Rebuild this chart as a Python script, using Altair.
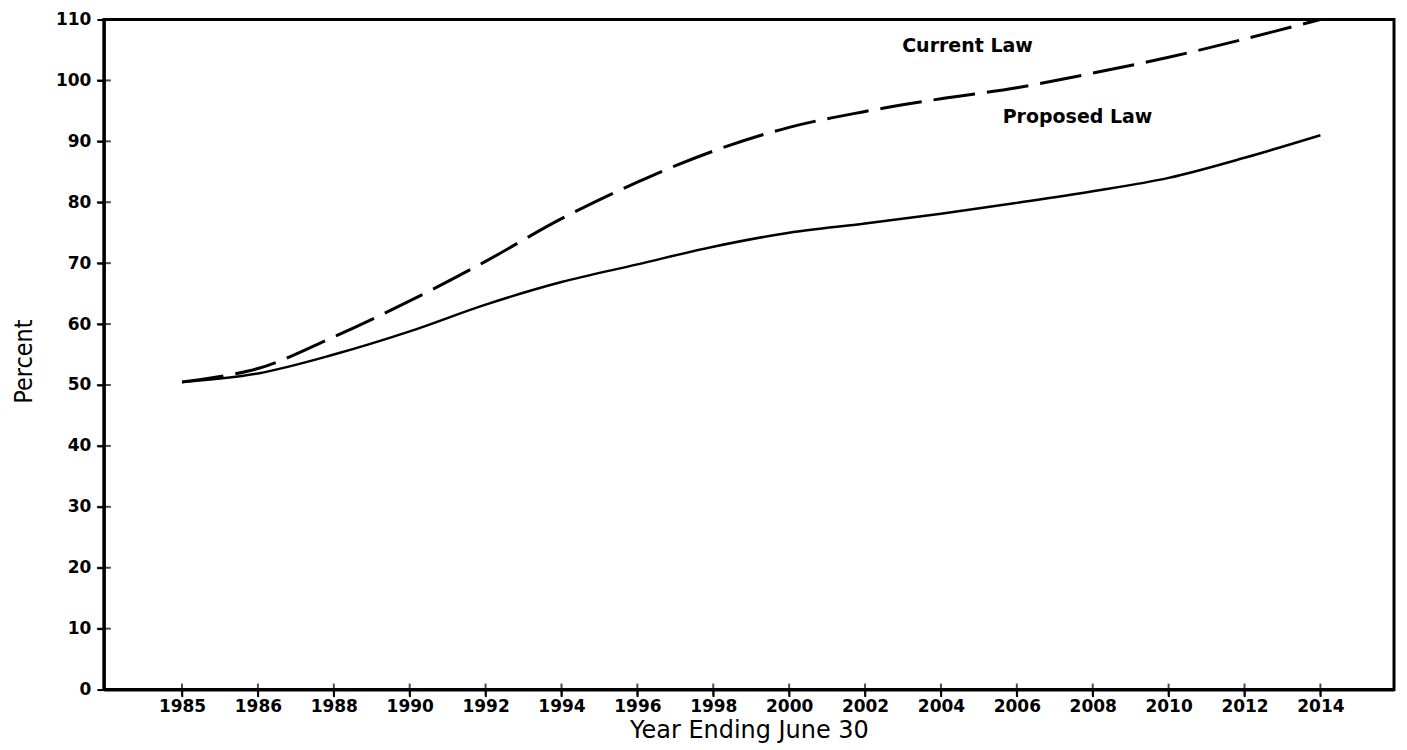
import json
import altair as alt
import pandas as pd

# ---- data ----
tick_labels = ["1985", "1986", "1988", "1990", "1992", "1994", "1996", "1998",
               "2000", "2002", "2004", "2006", "2008", "2010", "2012", "2014"]
current_law = [50.5, 52.7, 57.9, 63.8, 70.3, 77.3, 83.3, 88.4,
               92.3, 94.9, 97.0, 98.8, 101.2, 103.8, 106.8, 110.0]
proposed_law = [50.5, 51.9, 55.0, 58.8, 63.2, 66.9, 69.8, 72.7,
                75.0, 76.5, 78.1, 79.9, 81.8, 84.0, 87.3, 91.0]
y_ticks = [0, 10, 20, 30, 40, 50, 60, 70, 80, 90, 100, 110]
series_names = ["Current Law", "Proposed Law"]
label_pos = [10.35, 11.8]
label_val = [105.6, 94.0]

positions = list(range(len(tick_labels)))
rows = []
for p, lab, c, pr in zip(positions, tick_labels, current_law, proposed_law):
    rows.append({"pos": p, "year": lab, "value": c, "series": "Current Law"})
    rows.append({"pos": p, "year": lab, "value": pr, "series": "Proposed Law"})
df = pd.DataFrame(rows)
labels_df = pd.DataFrame({"pos": label_pos, "value": label_val, "text": series_names})
xt_df = pd.DataFrame({"pos": positions, "value": [0] * len(positions)})
yt_df = pd.DataFrame({"pos": [-1.03] * (len(y_ticks) - 2), "value": y_ticks[1:-1]})

FONT = "DejaVu Sans"
xscale = alt.Scale(domain=[-1.03, 15.97], nice=False, zero=False)
yscale = alt.Scale(domain=[0, 110], nice=False)

label_expr = json.dumps(tick_labels) + "[round(datum.value)]"

x_axis = alt.Axis(values=positions, labelExpr=label_expr, title="Year Ending June 30",
                  labelFont=FONT, labelFontSize=17, labelFontWeight="bold",
                  labelPadding=2, tickSize=7, labelFlush=False, labelOverlap=False,
                  titleFont=FONT, titleFontSize=24, titleFontWeight="normal",
                  titleY=29, titleBaseline="top")
y_axis = alt.Axis(values=y_ticks, title="Percent", labelFont=FONT, labelFontSize=17,
                  labelFontWeight="bold", labelPadding=6, tickSize=7, labelOverlap=False,
                  titleFont="Liberation Sans Narrow, DejaVu Sans Condensed, sans-serif",
                  titleFontSize=25, titleFontWeight="normal",
                  titleX=-80, titleY=342, titleBaseline="middle", titleAngle=-90)

base = alt.Chart(df)
current = base.transform_filter(alt.datum.series == "Current Law").mark_line(
    color="black", strokeWidth=3, strokeDash=[42, 12], interpolate="catmull-rom"
).encode(
    x=alt.X("pos:Q", scale=xscale, axis=x_axis),
    y=alt.Y("value:Q", scale=yscale, axis=y_axis),
)
proposed = base.transform_filter(alt.datum.series == "Proposed Law").mark_line(
    color="black", strokeWidth=2.5, interpolate="catmull-rom"
).encode(
    x=alt.X("pos:Q"),
    y=alt.Y("value:Q"),
)
texts = alt.Chart(labels_df).mark_text(
    font=FONT, fontSize=19, fontWeight="bold", color="black", align="center", baseline="middle"
).encode(
    x=alt.X("pos:Q"),
    y=alt.Y("value:Q"),
    text="text:N",
)
xticks = alt.Chart(xt_df).mark_tick(orient="vertical", size=12, thickness=2, color="black").encode(
    x=alt.X("pos:Q"),
    y=alt.Y("value:Q"),
)
yticks = alt.Chart(yt_df).mark_tick(orient="horizontal", size=14, thickness=2, color="black").encode(
    x=alt.X("pos:Q"),
    y=alt.Y("value:Q"),
)

chart = alt.layer(current, proposed, texts, xticks, yticks).properties(
    width=1292, height=671,
    autosize="none",
    padding={"left": 96, "top": 11, "right": 5, "bottom": 60},
    background="white",
).configure_view(
    stroke="black", strokeWidth=3
).configure_axis(
    grid=False, domainColor="black", domainWidth=3, tickColor="black", tickWidth=2,
    labelColor="black", titleColor="black",
)

chart.save("out.html", embed_options={"renderer": "svg", "actions": False})
